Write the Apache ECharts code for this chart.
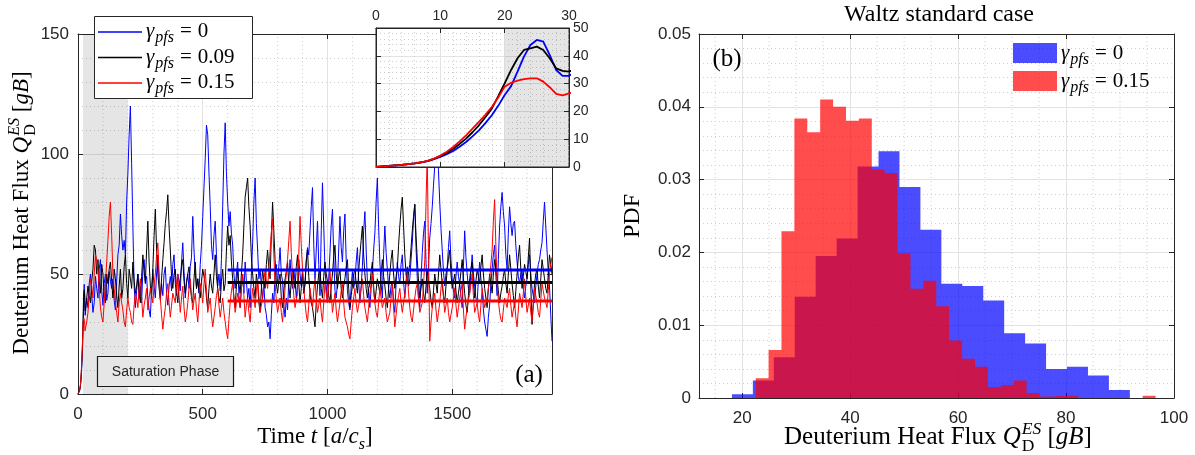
<!DOCTYPE html>
<html><head><meta charset="utf-8">
<script src="https://cdn.jsdelivr.net/npm/echarts@6/dist/echarts.min.js"></script>
<style>html,body{margin:0;padding:0;background:#fff}#c{width:1195px;height:455px}</style>
</head><body><div id="c"></div>
<script>
// ---------------- DATA ----------------
// early transient (t = 0..30, step 1), also shown in the inset
const tEarly = [0,1,2,3,4,5,6,7,8,9,10,11,12,13,14,15,16,17,18,19,20,21,22,23,24,25,26,27,28,29,30];
const blueEarly  = [0,0.2,0.4,0.6,0.8,1.0,1.3,1.7,2.1,2.8,3.6,4.6,5.8,7.3,9.0,11.0,13.2,15.8,18.6,22.0,25.9,29.1,34.3,39.7,43.9,45.7,45.1,40.3,34.9,32.8,32.8];
const blackEarly = [0,0.2,0.4,0.6,0.8,1.0,1.3,1.7,2.1,2.9,3.9,5.1,6.6,8.3,10.2,12.5,15.0,17.9,21.0,25.5,30.1,34.9,39.1,42.1,42.7,43.3,42.1,39.1,35.5,34.6,34.3];
const redEarly   = [0,0.2,0.4,0.6,0.8,1.0,1.3,1.7,2.2,3.0,4.1,5.5,7.2,9.2,11.4,13.8,16.2,18.8,21.6,25.0,28.9,30.3,31.1,31.6,31.9,31.9,30.7,28.7,26.3,25.8,26.5];

// later samples: t = 35, 40, ..., 1900 (one row = 100 time units)
const lateStart = 35, lateStep = 5;
const blueLate = [
 40,36,46,50,41,34,38,49,44,40,52,56,43,37,46,50,39,42,51,47,
 44,48,39,35,47,58,62,75,66,60,64,58,80,92,108,120,96,70,45,36,
 43,50,41,45,38,52,56,47,49,40,35,32,44,52,45,40,50,58,48,39,
 46,41,50,53,42,37,45,49,43,54,58,46,41,50,47,43,55,63,51,40,
 46,50,44,53,57,74,60,50,44,48,42,54,62,74,86,98,112,108,92,78,
 62,56,66,72,58,45,50,43,56,78,100,113,92,80,70,76,67,62,50,44,
 50,55,41,36,44,50,42,55,47,40,44,36,50,63,80,90,71,60,48,52,
 45,40,46,36,33,28,30,23,33,42,38,50,54,46,53,61,50,47,37,32,
 40,35,47,56,48,44,52,47,40,46,56,50,45,52,42,46,56,61,58,68,
 78,86,62,48,60,72,54,41,68,88,70,52,45,38,48,59,70,77,58,43,
 40,46,60,74,61,55,68,75,56,43,38,35,45,51,44,47,55,61,47,38,
 45,53,68,76,60,47,41,36,44,51,60,67,80,90,70,55,46,40,58,70,
 59,52,44,40,45,47,38,34,46,55,49,46,54,58,47,40,47,53,45,48,
 56,63,73,79,61,48,41,36,48,59,67,72,55,42,53,65,71,78,87,95,
 100,103,93,80,69,60,51,45,50,53,61,68,56,48,43,40,49,55,49,46,
 41,36,53,68,57,50,44,42,51,58,50,45,40,38,48,55,48,44,35,30,
 27,24,32,37,46,52,58,62,49,41,56,70,78,84,76,70,58,52,67,78,
 71,66,71,72,62,55,49,46,50,52,44,40,45,48,54,58,50,44,41,38,
 45,50,54,56,60,63,72,80,70,60,51,45,33,22];
const blackLate = [
 40,45,41,38,47,52,62,60,50,56,47,42,54,50,41,38,50,46,52,55,
 47,40,52,48,41,36,45,52,40,44,53,58,46,40,52,48,44,55,47,42,
 45,50,42,38,49,58,51,46,60,72,55,45,40,52,66,77,60,50,44,40,
 48,56,63,71,76,83,70,60,49,44,50,52,43,38,45,48,53,56,47,42,
 47,50,53,45,40,38,48,55,44,48,43,40,47,52,49,46,40,36,44,50,
 45,42,50,58,49,44,40,38,47,52,43,46,60,70,62,66,55,48,40,36,
 45,52,46,42,50,58,70,82,86,90,78,70,57,50,44,40,50,46,38,34,
 44,52,47,44,54,60,52,48,66,80,68,56,46,42,47,50,40,36,43,48,
 51,55,45,40,47,52,48,44,53,58,46,38,44,50,42,46,55,60,49,42,
 38,36,32,28,38,45,50,52,44,40,49,55,50,47,41,38,45,50,57,62,
 50,44,49,52,44,40,45,48,53,56,44,36,41,45,50,52,46,42,51,58,
 64,70,58,50,44,40,44,46,51,55,45,38,43,48,45,42,50,56,49,45,
 40,36,44,50,56,60,50,44,49,52,62,70,77,82,70,58,50,46,51,54,
 61,68,74,79,66,56,47,40,44,48,42,38,45,52,47,44,39,36,43,50,
 46,42,50,58,52,46,41,38,45,52,56,60,50,44,47,50,43,38,42,46,
 51,56,48,42,37,34,41,48,52,55,46,40,47,52,49,46,53,58,50,44,
 40,36,44,50,46,42,50,56,52,48,43,38,42,45,49,52,46,42,50,58,
 52,46,41,36,43,50,57,62,52,44,49,54,51,48,57,65,45,29,38,46,
 50,52,45,40,48,56,52,48,44,42,50,58,54,50];
const redLate = [
 30,34,42,48,45,40,50,58,56,52,44,36,32,30,38,46,55,64,74,80,
 66,50,44,38,34,30,38,42,38,35,30,28,35,40,36,34,30,29,37,42,
 40,36,44,48,40,32,37,40,44,35,40,44,41,38,45,50,58,63,50,40,
 33,27,32,36,42,46,38,32,37,42,40,38,46,50,41,34,40,45,36,30,
 33,38,44,48,41,35,39,42,35,30,38,46,42,38,46,52,43,34,37,40,
 33,28,32,36,41,44,37,32,36,40,34,30,26,23,31,38,43,46,40,34,
 38,42,39,36,44,50,41,32,37,40,34,30,38,44,40,36,43,48,41,34,
 37,40,47,52,47,44,52,60,67,73,58,46,39,34,37,40,34,30,37,44,
 50,56,64,72,59,48,41,36,39,42,58,74,62,52,44,38,33,30,37,44,
 40,36,43,48,40,34,37,40,34,30,38,46,42,38,45,52,42,34,38,42,
 35,30,34,38,43,46,38,32,30,28,25,23,30,36,40,44,38,34,37,40,
 44,48,41,36,33,30,36,42,46,50,43,38,34,32,38,44,40,36,38,40,
 34,30,32,34,40,46,36,28,33,38,41,44,38,34,38,42,46,50,42,36,
 32,30,35,40,44,46,39,34,36,38,45,56,80,100,58,22,30,36,39,42,
 35,30,34,38,44,48,40,34,37,40,34,30,33,36,40,44,37,32,36,40,
 43,46,35,27,32,36,39,42,46,50,41,34,36,38,33,30,37,44,40,36,
 38,40,44,48,54,60,72,81,62,46,39,34,31,30,35,40,38,36,41,44,
 37,32,35,38,32,28,35,42,39,36,42,48,40,34,37,40,34,30,37,44,
 41,38,34,32,39,46,43,40,38,36,43,50,54,57];

// time-averaged levels over the saturated phase
const meanStart = 600, meanEnd = 1900;
const meanBlue = 51.7, meanBlack = 46.5, meanRed = 38.75;

// panel (b): histograms (PDF)
const blueEdges = [18.1,21.98,25.86,29.74,33.62,37.5,41.38,45.26,49.14,53.02,56.9,60.78,64.66,68.54,72.42,76.3,80.18,84.06,87.94,91.82];
const bluePdf   = [0.0005,0.0024,0.0056,0.0139,0.0195,0.0219,0.0318,0.0339,0.0290,0.0231,0.0157,0.0154,0.0134,0.0089,0.0075,0.0040,0.0043,0.0031,0.0011];
const redEdges  = [22.5,24.89,27.28,29.67,32.06,34.45,36.84,39.23,41.62,44.01,46.4,48.79,51.18,53.57,55.96,58.35,60.74,63.13,65.52,67.91,70.3,72.69,75.08,77.47,79.86,82.25,84.64,87.03,89.42,91.81,94.2,96.59];
const redPdf    = [0.0027,0.0066,0.0229,0.0384,0.0365,0.0410,0.0400,0.0381,0.0384,0.0314,0.0309,0.0199,0.0150,0.0161,0.0126,0.0079,0.0054,0.0043,0.0015,0.0018,0.0024,0.0007,0.0002,0.0003,0.0003,0,0,0,0,0,0.0003];

// shaded phases
const satPhase = [20, 200];
const insetShade = [20, 30];

// ---------------- helpers ----------------
const SANS = '"Liberation Sans", Arial, sans-serif';
const SERIF = '"Liberation Serif", "DejaVu Serif", serif';
const TXT = '#262626';
const ctx = document.createElement('canvas').getContext('2d');

function pairs(early, late) {
  const out = tEarly.map((t, i) => [t, early[i]]);
  late.forEach((v, i) => out.push([lateStart + i * lateStep, v]));
  return out;
}
function stepData(edges, vals) {
  const d = vals.map((v, i) => [edges[i], v]);
  d.push([edges[edges.length - 1], vals[vals.length - 1]]);
  return d;
}
// pieces laid out left to right around a baseline; anchor 'center' or 'left'
function mathLabel(pieces, x, baseY, rot, anchor) {
  const kids = []; let end = 0, prevStart = 0;
  pieces.forEach(p => {
    const s = p.s || 20;
    const font = (p.i ? 'italic ' : '') + s + 'px ' + SERIF;
    ctx.font = font;
    const w = ctx.measureText(p.t).width;
    const start = p.stack ? prevStart : end + (p.gap || 0);
    kids.push({type: 'text', x: start, y: (p.dy || 0) - 0.33 * s, z: 100,
      style: {text: p.t, font: font, fill: '#000', align: 'left', verticalAlign: 'middle'}});
    prevStart = start;
    end = Math.max(end, start + w);
  });
  if (anchor !== 'left') kids.forEach(k => { k.x -= end / 2; });
  return {type: 'group', x: x, y: baseY, rotation: rot || 0, children: kids, silent: true, z: 100};
}
function gamma(val) {
  return [{t: 'γ', s: 21, i: 1}, {t: 'pfs', s: 16, i: 1, dy: 5, gap: 1}, {t: '=', s: 21, gap: 6}, {t: val, s: 21, gap: 6}];
}
function fluxLabel(s) {
  const k = s * 0.7;
  return [{t: 'Deuterium Heat Flux ', s: s}, {t: 'Q', s: s, i: 1},
    {t: 'ES', s: k, i: 1, dy: -0.42 * s, gap: 1}, {t: 'D', s: k, dy: 0.25 * s, stack: 1},
    {t: ' [', s: s}, {t: 'gB', s: s, i: 1}, {t: ']', s: s}];
}

const axisLine = {show: true, onZero: false, lineStyle: {color: TXT, width: 1}};
const tick = {show: true, inside: true, length: 5, lineStyle: {color: TXT}};
const lab = (o) => Object.assign({color: TXT, fontSize: 17, fontFamily: SANS}, o || {});
const major = {show: true, lineStyle: {color: '#e3e3e3', width: 1}};
const minor = {show: true, lineStyle: {color: '#cfcfcf', width: 1, type: [1, 3]}};
const noLab = {show: false};
const plain = v => String(v);

function vGridSeries(xi, yi, vals, y0, y1, z) {
  return {type: 'custom', xAxisIndex: xi, yAxisIndex: yi, z: z, silent: true, clip: true,
    data: vals.map(v => [v, y0]), encode: {x: 0, y: 1},
    renderItem: (params, api) => {
      const p0 = api.coord([api.value(0), y0]);
      const p1 = api.coord([api.value(0), y1]);
      return {type: 'line', shape: {x1: p0[0], y1: p0[1], x2: p1[0], y2: p1[1]},
        style: {stroke: '#cfcfcf', lineWidth: 1, lineDash: [1, 3]}};
    }};
}
function shadeSeries(xi, yi, x0, x1, y0, y1, z) {
  return {type: 'custom', xAxisIndex: xi, yAxisIndex: yi, z: z, silent: true, clip: true,
    data: [[x0, y0, x1, y1]], encode: {x: [0, 2], y: [1, 3]},
    renderItem: (params, api) => {
      const a = api.coord([api.value(0), api.value(3)]);
      const b = api.coord([api.value(2), api.value(1)]);
      return {type: 'rect', shape: {x: a[0], y: a[1], width: b[0] - a[0], height: b[1] - a[1]},
        style: {fill: 'rgba(0,0,0,0.10)'}};
    }};
}

const leftMinorX = [];
for (let v = 100; v < 1900; v += 100) if (v % 500 !== 0) leftMinorX.push(v);
const rightMinorX = [15,25,30,35,45,50,55,65,70,75,85,90,95];

const blueData = pairs(blueEarly, blueLate);
const blackData = pairs(blackEarly, blackLate);
const redData = pairs(redEarly, redLate);
const insetCut = tEarly.length + 1;

const lineS = (name, data, color, xi, yi, w, z) => ({
  type: 'line', name: name, data: data, xAxisIndex: xi, yAxisIndex: yi, showSymbol: false, symbol: 'none',
  lineStyle: {color: color, width: w}, itemStyle: {color: color}, z: z, clip: true, animation: false
});

const option = {
  animation: false,
  backgroundColor: '#fff',
  grid: [
    {left: 78, top: 34, width: 474, height: 360, show: false},
    {left: 376, top: 28, width: 193, height: 139, show: true, backgroundColor: '#fff', borderColor: TXT, borderWidth: 1, z: 5},
    {left: 699, top: 34, width: 475, height: 364, show: false}
  ],
  xAxis: [
    {gridIndex: 0, type: 'value', min: 0, max: 1900, interval: 500, position: 'bottom', axisLine, axisTick: tick,
      axisLabel: lab({margin: 12, showMaxLabel: false, formatter: plain}), splitLine: major},
    {gridIndex: 0, type: 'value', min: 0, max: 1900, interval: 500, position: 'top', axisLine, axisTick: tick,
      axisLabel: noLab, splitLine: {show: false}},
    {gridIndex: 1, type: 'value', min: 0, max: 30, interval: 10, position: 'top', axisLine, axisTick: tick, z: 6,
      axisLabel: lab({fontSize: 14, margin: 5}), splitLine: major, minorTick: {show: false, splitNumber: 5}, minorSplitLine: minor},
    {gridIndex: 1, type: 'value', min: 0, max: 30, interval: 10, position: 'bottom', axisLine, axisTick: tick, z: 6,
      axisLabel: noLab, splitLine: {show: false}},
    {gridIndex: 2, type: 'value', min: 12, max: 100, position: 'bottom', axisLine, axisTick: tick,
      axisLabel: lab({margin: 12, showMinLabel: false, formatter: plain}), splitLine: major},
    {gridIndex: 2, type: 'value', min: 12, max: 100, position: 'top', axisLine, axisTick: tick,
      axisLabel: noLab, splitLine: {show: false}}
  ],
  yAxis: [
    {gridIndex: 0, type: 'value', min: 0, max: 150, interval: 50, position: 'left', axisLine, axisTick: tick,
      axisLabel: lab({margin: 9}), splitLine: major, minorTick: {show: false, splitNumber: 5}, minorSplitLine: minor},
    {gridIndex: 0, type: 'value', min: 0, max: 150, interval: 50, position: 'right', axisLine, axisTick: tick,
      axisLabel: noLab, splitLine: {show: false}},
    {gridIndex: 1, type: 'value', min: 0, max: 50, interval: 10, position: 'right', axisLine, axisTick: tick, z: 6,
      axisLabel: lab({fontSize: 14, margin: 4}), splitLine: major, minorTick: {show: false, splitNumber: 5}, minorSplitLine: minor},
    {gridIndex: 1, type: 'value', min: 0, max: 50, interval: 10, position: 'left', axisLine, axisTick: tick, z: 6,
      axisLabel: noLab, splitLine: {show: false}},
    {gridIndex: 2, type: 'value', min: 0, max: 0.05, interval: 0.01, position: 'left', axisLine, axisTick: tick,
      axisLabel: lab({margin: 8, formatter: v => v === 0 ? '0' : v.toFixed(2)}), splitLine: major,
      minorTick: {show: false, splitNumber: 5}, minorSplitLine: minor},
    {gridIndex: 2, type: 'value', min: 0, max: 0.05, interval: 0.01, position: 'right', axisLine, axisTick: tick,
      axisLabel: noLab, splitLine: {show: false}}
  ],
  series: [
    vGridSeries(0, 0, leftMinorX, 0, 150, 1),
    shadeSeries(0, 0, satPhase[0], satPhase[1], 0, 150, 1),
    lineS('b', blueData, '#0000ff', 0, 0, 1, 2),
    lineS('k', blackData, '#000000', 0, 0, 1, 2),
    lineS('r', redData, '#ff0000', 0, 0, 1, 2),
    lineS('mb', [[meanStart, meanBlue], [meanEnd, meanBlue]], '#0000ff', 0, 0, 3, 3),
    lineS('mk', [[meanStart, meanBlack], [meanEnd, meanBlack]], '#000000', 0, 0, 3, 3),
    lineS('mr', [[meanStart, meanRed], [meanEnd, meanRed]], '#ff0000', 0, 0, 3, 3),
    shadeSeries(2, 2, insetShade[0], insetShade[1], 0, 50, 6),
    lineS('ib', blueData.slice(0, insetCut), '#0000ff', 2, 2, 1.8, 7),
    lineS('ik', blackData.slice(0, insetCut), '#000000', 2, 2, 1.8, 7),
    lineS('ir', redData.slice(0, insetCut), '#ff0000', 2, 2, 1.8, 7),
    vGridSeries(4, 4, rightMinorX, 0, 0.05, 1),
    {type: 'line', name: 'hb', xAxisIndex: 4, yAxisIndex: 4, step: 'end', data: stepData(blueEdges, bluePdf),
      showSymbol: false, symbol: 'none', lineStyle: {width: 0, opacity: 0}, areaStyle: {color: '#0000ff', opacity: 0.7}, z: 2},
    {type: 'line', name: 'hr', xAxisIndex: 4, yAxisIndex: 4, step: 'end', data: stepData(redEdges, redPdf),
      showSymbol: false, symbol: 'none', lineStyle: {width: 0, opacity: 0}, areaStyle: {color: '#ff0000', opacity: 0.7}, z: 3}
  ],
  graphic: {elements: [
    // axis titles
    mathLabel(fluxLabel(23), 30, 213, Math.PI / 2),
    mathLabel([{t: 'Time ', s: 23}, {t: 't', s: 23, i: 1}, {t: ' [', s: 23}, {t: 'a', s: 23, i: 1}, {t: '/', s: 23},
      {t: 'c', s: 23, i: 1}, {t: 's', s: 16, i: 1, dy: 5}, {t: ']', s: 23}], 315, 445),
    mathLabel(fluxLabel(25), 938, 446),
    mathLabel([{t: 'PDF', s: 24}], 641, 216, Math.PI / 2),
    mathLabel([{t: 'Waltz standard case', s: 24}], 939, 23),
    mathLabel([{t: '(a)', s: 25}], 529, 384),
    mathLabel([{t: '(b)', s: 25}], 727, 68),
    // saturation phase annotation
    {type: 'rect', shape: {x: 97.5, y: 356.5, width: 136, height: 30}, style: {fill: '#e6e6e6', stroke: '#1a1a1a', lineWidth: 1.2}, z: 50, silent: true},
    {type: 'text', x: 165.5, y: 372, z: 51, silent: true, style: {text: 'Saturation Phase', font: '14px ' + SANS, fill: TXT, align: 'center', verticalAlign: 'middle'}},
    // legend (a)
    {type: 'rect', shape: {x: 94.5, y: 16.5, width: 158, height: 82}, style: {fill: '#fff', stroke: TXT, lineWidth: 1}, z: 90, silent: true},
    {type: 'line', shape: {x1: 98, y1: 32, x2: 142, y2: 32}, style: {stroke: '#0000ff', lineWidth: 1.5}, z: 91, silent: true},
    {type: 'line', shape: {x1: 98, y1: 57.5, x2: 142, y2: 57.5}, style: {stroke: '#000', lineWidth: 1.5}, z: 91, silent: true},
    {type: 'line', shape: {x1: 98, y1: 83, x2: 142, y2: 83}, style: {stroke: '#ff0000', lineWidth: 1.5}, z: 91, silent: true},
    mathLabel(gamma('0'), 146, 38, 0, 'left'),
    mathLabel(gamma('0.09'), 146, 64, 0, 'left'),
    mathLabel(gamma('0.15'), 146, 89, 0, 'left'),
    // legend (b)
    {type: 'rect', shape: {x: 1013, y: 43, width: 44, height: 20}, style: {fill: 'rgba(0,0,255,0.7)'}, z: 90, silent: true},
    {type: 'rect', shape: {x: 1013, y: 71, width: 44, height: 20}, style: {fill: 'rgba(255,0,0,0.7)'}, z: 90, silent: true},
    mathLabel(gamma('0'), 1061, 60, 0, 'left'),
    mathLabel(gamma('0.15'), 1061, 88, 0, 'left')
  ]}
};

const chart = echarts.init(document.getElementById('c'), null, {renderer: 'canvas'});
chart.setOption(option);
</script></body></html>
